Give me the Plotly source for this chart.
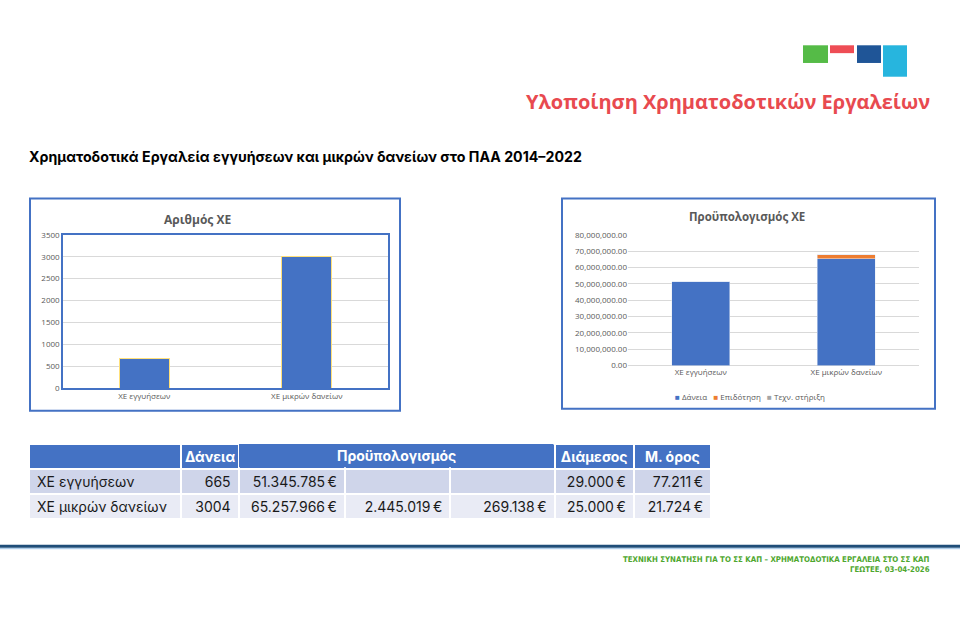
import plotly.graph_objects as go

# δεδομένα
categories = ["ΧΕ εγγυήσεων", "ΧΕ μικρών δανείων"]
loans_count = [665, 3004]
budget_loans = [51345785, 65257966]
budget_subsidy = [None, 2445019]
budget_ta = [None, 269138]
median_loan = [29000, 25000]
mean_loan = [77211, 21724]

series_names = ["Δάνεια", "Επιδότηση", "Τεχν. στήριξη"]
series_colors = ["#4472C4", "#ED7D31", "#A5A5A5"]

table_header = ["", "Δάνεια", "", "", "", "Διάμεσος", "Μ. όρος"]

W, H = 960, 620


def px(x):
    return x / W


def py(y):
    return 1 - y / H


def eur(v):
    if v is None:
        return ""
    return f"{v:,}".replace(",", ".") + "\u202f€"


fig = go.Figure()

# Αριθμός ΧΕ
fig.add_trace(go.Bar(
    x=categories, y=loans_count, xaxis="x", yaxis="y", width=0.31,
    marker=dict(color="#4472C4", line=dict(color="#FFE07A", width=1)),
    showlegend=False, hoverinfo="x+y",
))

# Προϋπολογισμός ΧΕ
for name, vals, col in zip(series_names, [budget_loans, budget_subsidy, budget_ta], series_colors):
    fig.add_trace(go.Bar(
        x=categories, y=[v or 0 for v in vals], name=name, width=0.4,
        xaxis="x2", yaxis="y2", marker=dict(color=col), showlegend=False,
    ))

# πίνακας
cells = [
    categories,
    [str(v) for v in loans_count],
    [eur(v) for v in budget_loans],
    [eur(v) for v in budget_subsidy],
    [eur(v) for v in budget_ta],
    [eur(v) for v in median_loan],
    [eur(v) for v in mean_loan],
]
row_fill = ["#CFD5EA", "#E9EBF5"]
fig.add_trace(go.Table(
    domain=dict(x=[px(29), px(711)], y=[py(562), py(445.5)]),
    columnwidth=[152, 57, 106, 105, 104, 79, 77],
    header=dict(
        values=table_header, height=25,
        fill_color="#4472C4",
        line=dict(color="white", width=2),
        font=dict(family="Inter", size=14, color="white", weight="bold"),
        align="center",
    ),
    cells=dict(
        values=cells, height=25,
        fill_color=[row_fill] * 7,
        line=dict(color="white", width=2),
        font=dict(family="Inter", size=14, color="#1A1A1A"),
        align=["left"] + ["right"] * 6,
    ),
))

grid = "#D9D9D9"
tickfont = dict(family="Open Sans", size=8, color="#595959")

fig.update_layout(
    width=W, height=H,
    margin=dict(l=0, r=0, t=0, b=0),
    paper_bgcolor="white", plot_bgcolor="white",
    font=dict(family="Open Sans", color="#595959"),
    barmode="stack",
    showlegend=False,
    xaxis=dict(domain=[px(63), px(388)], anchor="y", tickfont=tickfont,
               showline=True, mirror=True, linecolor="#4472C4", linewidth=1.5,
               ticks=""),
    yaxis=dict(domain=[py(389), py(233)], anchor="x", range=[0, 3500], dtick=500,
               tickfont=tickfont, gridcolor=grid, showline=True, mirror=True,
               linecolor="#4472C4", linewidth=1.5, zeroline=False),
    xaxis2=dict(domain=[px(628), px(919)], anchor="y2", tickfont=tickfont, ticks=""),
    yaxis2=dict(domain=[py(366), py(233)], anchor="x2", range=[0, 80000001],
                dtick=10000000, tickformat=",.2f", tickfont=tickfont,
                gridcolor=grid, zeroline=True, zerolinecolor=grid, zerolinewidth=1),
)

shapes = [
    # πλαίσια γραφημάτων
    dict(type="rect", xref="paper", yref="paper", x0=px(30), x1=px(400), y0=py(412), y1=py(196),
         line=dict(color="#4472C4", width=2)),
    dict(type="rect", xref="paper", yref="paper", x0=px(562), x1=px(935), y0=py(410), y1=py(196),
         line=dict(color="#4472C4", width=2)),
    # συγχωνευμένο κελί κεφαλίδας
    dict(type="rect", xref="paper", yref="paper", x0=px(239), x1=px(553.5), y0=py(469.5), y1=py(446),
         fillcolor="#4472C4", line=dict(width=0)),
    # λογότυπο
    dict(type="rect", xref="paper", yref="paper", x0=px(803), x1=px(828), y0=py(58), y1=py(40),
         fillcolor="#55BB47", line=dict(width=0)),
    dict(type="rect", xref="paper", yref="paper", x0=px(830), x1=px(854), y0=py(48), y1=py(40),
         fillcolor="#EE4D55", line=dict(width=0)),
    dict(type="rect", xref="paper", yref="paper", x0=px(857), x1=px(881), y0=py(58), y1=py(40),
         fillcolor="#1F5597", line=dict(width=0)),
    dict(type="rect", xref="paper", yref="paper", x0=px(883), x1=px(907), y0=py(72), y1=py(40),
         fillcolor="#27B5DE", line=dict(width=0)),
    # γραμμή υποσέλιδου
    dict(type="line", xref="paper", yref="paper", x0=0, x1=1, y0=py(550), y1=py(550),
         line=dict(color="#1F4E79", width=3)),
    dict(type="line", xref="paper", yref="paper", x0=0, x1=1, y0=py(552.5), y1=py(552.5),
         line=dict(color="#9DC3E6", width=1)),
]
fig.update_layout(shapes=shapes)

# υπόμνημα του δεύτερου γραφήματος
legend_text = "&nbsp;&nbsp;&nbsp;".join(
    f"<span style='color:{c}'>■</span> {n}" for n, c in zip(series_names, series_colors)
)

ann = [
    dict(text="Υλοποίηση Χρηματοδοτικών Εργαλείων", x=px(932), y=py(97), xanchor="right",
         font=dict(family="Open Sans", size=20, color="#E84A4F", weight="bold")),
    dict(text="Χρηματοδοτικά Εργαλεία εγγυήσεων και μικρών δανείων στο ΠΑΑ 2014–2022",
         x=px(27), y=py(153), xanchor="left",
         font=dict(family="Inter", size=14.2, color="black", weight="bold")),
    dict(text="Αριθμός ΧΕ", x=px(197), y=py(217), xanchor="center",
         font=dict(family="Open Sans", size=12, color="#595959", weight="bold")),
    dict(text="Προϋπολογισμός ΧΕ", x=px(747), y=py(214), xanchor="center",
         font=dict(family="Open Sans", size=11.5, color="#595959", weight="bold")),
    dict(text=legend_text, x=px(750), y=py(398), xanchor="center",
         font=dict(family="Open Sans", size=8, color="#595959")),
    dict(text="Προϋπολογισμός", x=px(396), y=py(458), xanchor="center",
         font=dict(family="Inter", size=14, color="white", weight="bold")),
    dict(text="ΤΕΧΝΙΚΗ ΣΥΝΑΤΗΣΗ ΓΙΑ ΤΟ ΣΣ ΚΑΠ – ΧΡΗΜΑΤΟΔΟΤΙΚΑ ΕΡΓΑΛΕΙΑ ΣΤΟ ΣΣ ΚΑΠ",
         x=px(932), y=py(563), xanchor="right",
         font=dict(family="DejaVu Sans Condensed", size=7.8, color="#4EA72E", weight="bold")),
    dict(text="ΓΕΩΤΕΕ, 03-04-2026", x=px(932), y=py(574), xanchor="right",
         font=dict(family="DejaVu Sans Condensed", size=7.8, color="#4EA72E", weight="bold")),
]
for a in ann:
    fig.add_annotation(xref="paper", yref="paper", yanchor="middle", showarrow=False, **a)

fig.write_html("out.html", config={"displayModeBar": False},
               post_script="document.body.style.margin='0';")
